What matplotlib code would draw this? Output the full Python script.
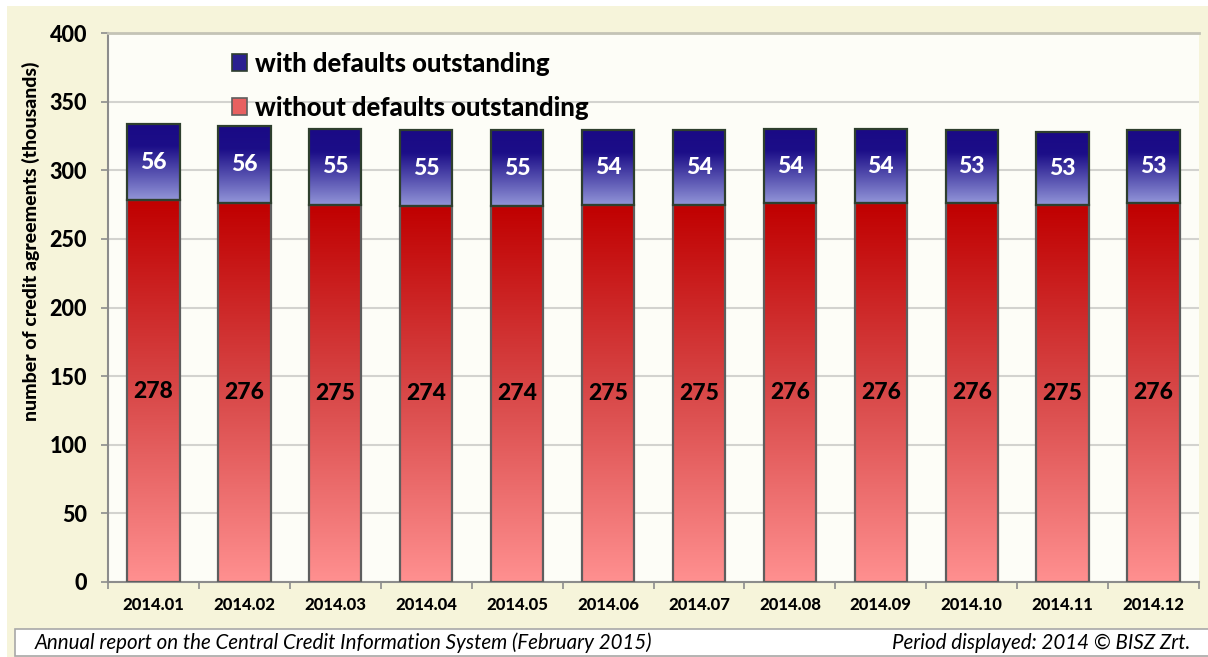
import numpy as np
import matplotlib
matplotlib.use("Agg")
import matplotlib.pyplot as plt
from matplotlib.patches import Rectangle, Patch
from matplotlib.colors import LinearSegmentedColormap

months = ["2014.01", "2014.02", "2014.03", "2014.04", "2014.05", "2014.06",
          "2014.07", "2014.08", "2014.09", "2014.10", "2014.11", "2014.12"]
without_defaults = [278, 276, 275, 274, 274, 275, 275, 276, 276, 276, 275, 276]
with_defaults = [56, 56, 55, 55, 55, 54, 54, 54, 54, 53, 53, 53]

plt.rcParams['font.family'] = ['Lato', 'DejaVu Sans']
W = 900  # heavy weight, closer to the bold face of the original

cream = "#F6F4DA"
plot_bg = "#FDFDF7"

# gradients run from top (dark) to bottom (light)
red_cmap = LinearSegmentedColormap.from_list("red", ["#C00000", "#D84848", "#FF9090"])
blue_cmap = LinearSegmentedColormap.from_list("blue", [(0, "#1A0A85"), (0.3, "#1C0E88"), (1, "#9295D8")])

fig = plt.figure(figsize=(12.08, 6.57), dpi=100)
fig.patch.set_facecolor("white")
fig.patches.append(Rectangle((7 / 1208, 0), 1, 1 - 6 / 657, transform=fig.transFigure,
                             facecolor=cream, edgecolor="none", zorder=-5))

ax = fig.add_axes([108 / 1208, 1 - 582 / 657, (1199 - 108) / 1208, (582 - 33) / 657])
ax.set_facecolor(plot_bg)

x = np.arange(len(months))
width = 0.575
grad = np.linspace(0, 1, 256).reshape(-1, 1)


def gradient_bars(xs, heights, bottoms, cmap, edge):
    bars = ax.bar(xs, heights, width, bottom=bottoms, facecolor="none",
                  edgecolor=edge, linewidth=1.6, zorder=4)
    for b in bars:
        x0, y0 = b.get_x(), b.get_y()
        w, h = b.get_width(), b.get_height()
        im = ax.imshow(grad, cmap=cmap, aspect="auto", extent=(x0, x0 + w, y0, y0 + h),
                       origin="upper", zorder=3, interpolation="bicubic")
        im.set_clip_path(b)
    return bars


gradient_bars(x, without_defaults, 0, red_cmap, "#5E5E5E")
gradient_bars(x, with_defaults, without_defaults, blue_cmap, "#2E3F2E")

for i in range(len(months)):
    r, b = without_defaults[i], with_defaults[i]
    ax.text(x[i], r / 2, str(r), ha="center", va="center", fontsize=16.5,
            fontweight=W, color="black", zorder=5)
    ax.text(x[i], r + b / 2, str(b), ha="center", va="center", fontsize=16.5,
            fontweight=W, color="white", zorder=5)

ax.set_xlim(-0.5, len(months) - 0.5)
ax.set_ylim(0, 400)
ax.set_yticks(np.arange(0, 401, 50))
ax.yaxis.grid(True, color="#D3D3CF", linewidth=1.5)
ax.set_axisbelow(True)

ax.set_xticks(x)
ax.set_xticklabels(months, fontsize=12, fontweight=W)
ax.set_xticks(np.arange(-0.5, len(months)), minor=True)
ax.tick_params(axis="x", which="major", length=0, pad=11)
ax.tick_params(axis="x", which="minor", length=5, width=1.2, color="#8C8C8C", direction="out")
ax.tick_params(axis="y", length=5, width=1.2, color="#8C8C8C", labelsize=15.5, pad=10)
for lbl in ax.get_yticklabels():
    lbl.set_fontweight(W)

for s in ["left", "bottom"]:
    ax.spines[s].set_color("#8C8C8C")
    ax.spines[s].set_linewidth(1.5)
ax.spines["right"].set_visible(False)
ax.spines["top"].set_color("#C4C3B6")
ax.spines["top"].set_linewidth(2)

ax.set_ylabel("number of credit agreements (thousands)", fontsize=14, fontweight=W)
ax.yaxis.set_label_coords(-0.062, 0.62)

handles = [Patch(facecolor="#2A2090", edgecolor="#2E3F2E", linewidth=1.2),
           Patch(facecolor="#E86060", edgecolor="#5E5E5E", linewidth=1.2)]
leg = ax.legend(handles, ["with defaults outstanding", "without defaults outstanding"],
                loc="upper left", bbox_to_anchor=(0.104, 0.985), frameon=False,
                prop={"size": 18.5, "weight": W}, labelspacing=0.78,
                handlelength=0.6, handleheight=0.6, handletextpad=0.3, borderaxespad=0)
leg.set_zorder(6)

# footer
fig.patches.append(Rectangle((15 / 1208, 1 / 657), 1, 27 / 657, transform=fig.transFigure,
                             facecolor="white", edgecolor="#A8A8A8", linewidth=1.2, zorder=1))
fig.text(35 / 1208, 14 / 657, "Annual report on the Central Credit Information System (February 2015)",
         ha="left", va="center", fontsize=14.8, style="italic")
fig.text(1190 / 1208, 14 / 657, "Period displayed: 2014 © BISZ Zrt.",
         ha="right", va="center", fontsize=14.8, style="italic")

fig.savefig("out.png", dpi=100, facecolor=fig.get_facecolor())
